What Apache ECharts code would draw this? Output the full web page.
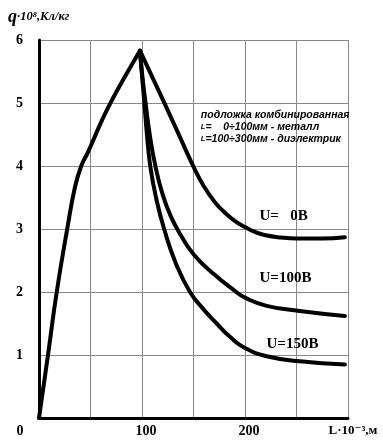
<!DOCTYPE html>
<html>
<head>
<meta charset="utf-8">
<script src="https://cdn.jsdelivr.net/npm/echarts@6/dist/echarts.min.js"></script>
<style>
html,body{margin:0;padding:0;background:#fff;}
#c{width:383px;height:440px;}
</style>
</head>
<body>
<div id="c"></div>
<script>
// ---- data (x: L·10^-3 м, y: q·10^8 Кл/кг) ----
var rising = [[0,0],[9,1.03],[17.2,2],[27.5,3.01],[35,3.67],[41,4.0],[47,4.2],[52.7,4.41],[61,4.72],[70,5.02],[83.5,5.42],[98,5.83]];
var u0 = [[98,5.83],[110,5.41],[122,4.99],[136,4.49],[150,3.99],[160,3.68],[171,3.42],[181,3.25],[190,3.13],[200,3.03],[210,2.95],[220,2.9],[235,2.865],[250,2.85],[275,2.85],[297,2.87]];
var u100 = [[98,5.83],[100.5,5.4],[103.5,5.0],[107.5,4.5],[113,4.0],[120,3.55],[128,3.2],[137,2.92],[150,2.6],[170,2.28],[190,2.02],[200,1.91],[221,1.78],[253,1.7],[297,1.62]];
var u150 = [[98,5.83],[100.2,5.4],[102.3,5.0],[104.8,4.5],[108,4.0],[113.6,3.5],[121.5,3.0],[133,2.45],[146.6,2.0],[160,1.72],[172.5,1.5],[186,1.28],[200,1.11],[221,0.98],[253,0.9],[297,0.85]];
var seriesNames = ['U=   0В','U=100В','U=150В'];
var seriesLabelPos = [[214.6,3.19],[214.6,2.22],[221.4,1.17]];
var xTickLabels = {0:'0',100:'100',200:'200',300:'L·10⁻³,м'};
var yTitle = ['q','·10⁸,Кл/кг'];
var noteLines = ['подложка комбинированная','L','=    0÷100мм - металл','L','=100÷300мм - диэлектрик'];
var notePos = [157.6,4.9];

var serif = '"Liberation Serif","DejaVu Serif",serif';
var sans = '"Liberation Sans","DejaVu Sans",sans-serif';

function lineSeries(data, name, labelPos){
  var s = {
    type:'line', data:data, smooth:0.5, showSymbol:false, symbol:'none',
    lineStyle:{color:'#000', width:4, cap:'round', join:'round'},
    z:3, silent:true
  };
  if(name){
    s.markPoint = {
      symbol:'rect', symbolSize:1, itemStyle:{color:'rgba(0,0,0,0)'},
      silent:true,
      label:{show:true, position:[0,0], align:'left', verticalAlign:'middle',
        formatter:name, color:'#000', fontFamily:serif, fontWeight:'bold', fontSize:15},
      data:[{coord:labelPos}]
    };
  }
  return s;
}

var chart = echarts.init(document.getElementById('c'), null, {renderer:'canvas'});
var noteSeries = {
  type:'line', data:[], silent:true,
  markPoint:{
    symbol:'rect', symbolSize:1, itemStyle:{color:'rgba(0,0,0,0)'}, silent:true,
    label:{show:true, position:[0,0], align:'left', verticalAlign:'top',
      formatter:'{a|'+noteLines[0]+'}\n{l|'+noteLines[1]+'}{a|'+noteLines[2]+'}\n{l|'+noteLines[3]+'}{a|'+noteLines[4]+'}',
      rich:{
        a:{fontFamily:sans, fontStyle:'italic', fontWeight:'bold', fontSize:10.5, color:'#000', lineHeight:12},
        l:{fontFamily:sans, fontStyle:'italic', fontWeight:'bold', fontSize:7.5, color:'#000', lineHeight:12}
      }
    },
    data:[{coord:notePos}]
  }
};

chart.setOption({
  animation:false,
  backgroundColor:'#fff',
  title:{
    text:'{q|'+yTitle[0]+'}{t|'+yTitle[1]+'}',
    left:3, top:3,
    textStyle:{rich:{
      q:{fontFamily:serif, fontStyle:'italic', fontWeight:'bold', fontSize:18, color:'#000'},
      t:{fontFamily:serif, fontStyle:'italic', fontWeight:'bold', fontSize:12.5, color:'#000'}
    }}
  },
  grid:{left:39, right:35, top:40, bottom:22, containLabel:false},
  xAxis:{
    type:'value', min:0, max:300, interval:50,
    axisLine:{show:true, onZero:false, lineStyle:{color:'#000', width:3}},
    axisTick:{show:false},
    splitLine:{show:true, lineStyle:{color:'#888', width:1}},
    axisLabel:{
      margin:6, color:'#000', fontFamily:serif, fontWeight:'bold', fontSize:14,
      showMinLabel:true, showMaxLabel:true,
      formatter:function(v){
        var t = xTickLabels[v];
        if(t===undefined) return '';
        if(v===0) return '{z|'+t+'}';
        if(v===300) return '{u|'+t+'}';
        return '{n|'+t+'}';
      },
      rich:{
        z:{padding:[0,38,0,0], fontFamily:serif, fontWeight:'bold', fontSize:14, color:'#000'},
        n:{padding:[0,0,0,8], fontFamily:serif, fontWeight:'bold', fontSize:14, color:'#000'},
        u:{padding:[0,0,0,10], fontFamily:serif, fontWeight:'bold', fontSize:13, color:'#000'}
      }
    }
  },
  yAxis:{
    type:'value', min:0, max:6, interval:1,
    axisLine:{show:true, onZero:false, lineStyle:{color:'#000', width:3}},
    axisTick:{show:false},
    splitLine:{show:true, lineStyle:{color:'#888', width:1}},
    axisLabel:{
      margin:16, color:'#000', fontFamily:serif, fontWeight:'bold', fontSize:14,
      formatter:function(v){ return v===0 ? '' : String(v); }
    }
  },
  series:[
    lineSeries(rising, null, null),
    lineSeries(u0, seriesNames[0], seriesLabelPos[0]),
    lineSeries(u100, seriesNames[1], seriesLabelPos[1]),
    lineSeries(u150, seriesNames[2], seriesLabelPos[2]),
    noteSeries
  ]
});
</script>
</body>
</html>
